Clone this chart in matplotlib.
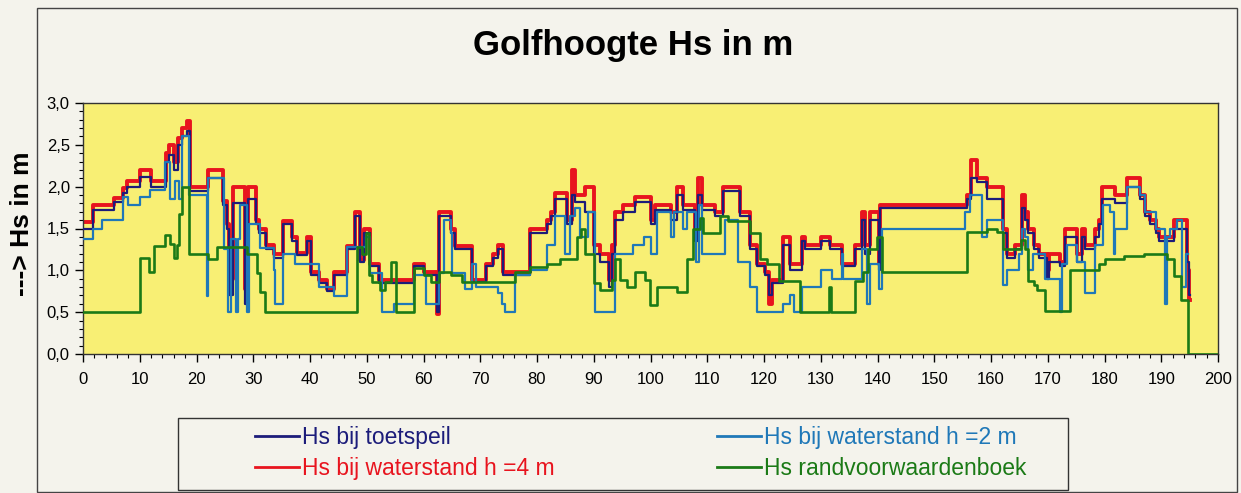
import matplotlib
matplotlib.use("Agg")
import matplotlib.pyplot as plt
from matplotlib.ticker import MultipleLocator, FuncFormatter
from matplotlib.patches import Rectangle

rood_x = [0, 1.8, 5.4, 7, 7.7, 10, 12, 14.6, 15.2, 16, 16.8, 17.4, 18.3, 18.9, 22.1, 24.6, 25.3, 25.8,
          26.5, 28.6, 29, 30.4, 31, 32.3, 33.6, 35.2, 36.8, 37.7, 39.4, 40.2, 41.5, 43, 44.2, 46.6, 48,
          48.8, 49.6, 50.5, 52.2, 58.3, 60, 62.4, 62.8, 64.8, 65.6, 68.5, 71, 72.3, 73.2, 74, 78.8,
          81.8, 82.4, 83.2, 85.2, 86.1, 86.7, 88.5, 90, 91.1, 92.6, 93.2, 93.8, 95.2, 97.3, 100, 100.8,
          103.7, 104.6, 105.8, 107.8, 108.4, 109, 111.4, 112.8, 115.8, 117.6, 118.7, 120.2, 120.8,
          121.4, 123.4, 124.6, 126.7, 127.3, 130, 131.7, 133.7, 136, 137.2, 137.8, 138.7, 140.2, 140.5,
          155.8, 156.4, 157.5, 159.3, 162.2, 162.8, 164.3, 165.5, 166, 166.6, 167.5, 168.5, 169.8,
          170.3, 172.2, 173.1, 175.1, 176, 176.6, 178.4, 179, 179.5, 181.9, 184, 186.3, 187.2, 188.1,
          189, 189.6, 192.2, 194.5, 194.9, 195.1]
rood_y = [1.58, 1.78, 1.87, 1.98, 2.07, 2.2, 2.07, 2.4, 2.5, 2.3, 2.58, 2.7, 2.78, 2.0, 2.2, 1.83, 1.55, 0.9,
          2.0, 0.78, 2.0, 1.6, 1.5, 1.3, 1.2, 1.59, 1.4, 1.21, 1.4, 0.98, 0.88, 0.78, 0.98, 1.29, 1.7,
          1.12, 1.5, 1.08, 0.88, 1.08, 0.98, 0.48, 1.7, 1.5, 1.29, 0.88, 1.08, 1.2, 1.3, 0.98, 1.5,
          1.6, 1.7, 1.92, 1.6, 2.2, 1.9, 2.0, 1.3, 1.2, 0.88, 1.3, 1.7, 1.78, 1.88, 1.6, 1.78,
          1.7, 2.0, 1.78, 1.4, 2.1, 1.78, 1.7, 2.0, 1.7, 1.3, 1.08, 0.98, 0.6,
          0.88, 1.4, 1.08, 1.4, 1.3, 1.4, 1.3, 1.08, 1.3, 1.7, 1.3, 1.7, 1.08, 1.78,
          1.9, 2.32, 2.1, 2.0, 1.5, 1.2, 1.3, 1.9, 1.7, 1.5, 1.3, 1.2, 1.0,
          1.2, 1.1, 1.5, 1.2, 1.5, 1.3, 1.5, 1.6, 2.0, 1.9, 2.1, 1.9, 1.7, 1.6,
          1.5, 1.4, 1.6, 1.0, 0.65, 0.65]
toets_y = [1.5, 1.72, 1.82, 1.93, 2.0, 2.12, 2.0, 2.3, 2.38, 2.2, 2.5, 2.6, 2.66, 1.95, 2.1, 1.78, 1.5, 0.7,
           1.8, 0.6, 1.85, 1.55, 1.45, 1.25, 1.15, 1.55, 1.35, 1.18, 1.35, 0.95, 0.85, 0.75, 0.95, 1.25, 1.65,
           1.1, 1.45, 1.05, 0.85, 1.05, 0.95, 0.5, 1.65, 1.45, 1.25, 0.86, 1.05, 1.15, 1.25, 0.95, 1.45,
           1.55, 1.65, 1.85, 1.55, 1.9, 1.82, 1.7, 1.2, 1.1, 0.8, 1.2, 1.6, 1.7, 1.82, 1.55, 1.72,
           1.6, 1.9, 1.72, 1.35, 1.9, 1.72, 1.65, 1.95, 1.65, 1.25, 1.05, 0.95, 0.7,
           0.85, 1.3, 1.0, 1.35, 1.25, 1.35, 1.25, 1.05, 1.25, 1.6, 1.2, 1.6, 1.0, 1.74,
           1.85, 2.1, 2.05, 1.85, 1.45, 1.15, 1.25, 1.75, 1.6, 1.45, 1.25, 1.15, 0.9,
           1.1, 1.05, 1.4, 1.1, 1.4, 1.25, 1.4, 1.55, 1.85, 1.8, 2.0, 1.85, 1.65, 1.55,
           1.45, 1.35, 1.5, 1.1, 0.7, 0.7]

blauw_x = [0, 1.8, 3.3, 7.1, 8, 10, 11.8, 14.5, 15.3, 16.2, 17, 17.4, 18.6, 21.8, 22.0, 24.8, 25.6, 26.0,
           26.9, 27.3, 27.7, 28.9, 29.3, 31.2, 33.6, 33.9, 35.2, 37.4, 41.5, 44.2, 46.6, 49.8, 50.6, 52.7,
           54.8, 58.4, 60.4, 62.7, 63.6, 64.8, 65.1, 67.4, 68.5, 69.3, 73.2, 73.8, 74.3, 76.1, 78.8, 81.7,
           83.2, 84.9, 85.8, 86.7, 87.6, 89, 90.2, 93.8, 97, 98.8, 100, 101.1, 103.7, 104.1, 105.8, 106.4,
           108.1, 108.6, 109, 113.1, 115.5, 117.6, 118.7, 123.4, 124.6, 125.2, 126.7, 130, 132, 133.7,
           134, 137.2, 138.1, 138.7, 140.2, 140.8, 155.5, 156.3, 158.4, 159.3, 162.2, 162.8, 164.9,
           165.5, 166, 166.6, 167.4, 169.5, 172.2, 172.5, 173.4, 175.1, 176.6, 178.4, 179.8, 181, 181.6,
           181.9, 184, 186.3, 187.2, 189, 190.7, 191, 191.6, 192.8, 193.7, 194.3, 194.8]
blauw_y = [1.37, 1.5, 1.6, 1.88, 1.78, 1.88, 1.96, 2.3, 1.85, 2.07, 1.85, 2.6, 1.9, 0.69, 2.1, 1.26, 0.5, 1.37,
           0.5, 1.37, 1.78, 0.5, 1.55, 1.27, 1.0, 0.6, 1.2, 1.08, 0.8, 0.69, 1.28, 1.4, 0.97, 0.5,
           0.6, 0.95, 0.6, 0.97, 1.6, 1.45, 0.97, 0.78, 1.08, 0.8, 0.73, 0.6, 0.5, 0.95, 1.0, 1.3,
           1.65, 1.2, 1.65, 1.75, 1.4, 1.7, 0.5, 1.2, 1.3, 1.4, 1.2, 1.7, 1.4, 1.7, 1.5, 1.7,
           1.1, 1.78, 1.2, 1.6, 1.1, 0.8, 0.5, 0.6, 0.7, 0.5, 0.8, 1.0, 0.9, 1.2,
           0.9, 1.25, 0.6, 1.08, 0.78, 1.5, 1.7, 1.9, 1.4, 1.6, 0.83, 1.0, 1.2,
           1.5, 1.4, 1.0, 1.2, 0.9, 0.5, 1.08, 1.3, 1.1, 0.73, 1.3, 1.78, 1.7, 1.2,
           1.5, 2.0, 1.9, 1.7, 1.5, 0.6, 1.4, 1.5, 1.6, 0.8, 1.2, 1.2]

groen_x = [0, 10, 11.7, 12.5, 14.5, 15.4, 16, 16.5, 17, 17.4, 18.6, 22.1, 23.6, 28.9, 30.6, 31.2, 32, 48.2,
           49.2, 49.8, 50.4, 51, 52.4, 53.3, 54.2, 55.2, 58.3, 60, 61.4, 62.7, 64.8, 66.8, 76.1, 78.8,
           81.7, 84, 87, 87.7, 88.5, 90, 91.1, 93.2, 93.8, 94.6, 95.8, 97.3, 99, 99.9, 101.1, 104.6,
           106.4, 107.5, 108.7, 109.3, 112.3, 113.7, 117.6, 119.3, 120.5, 122.6, 126.4, 131.4, 131.8,
           136, 137.5, 138.4, 139.9, 140.8, 155.8, 159.3, 161, 162.2, 165.2, 166, 166.6, 167.5, 168.1,
           169.5, 174, 179, 180.1, 183.4, 186.9, 191, 192.2, 193.4, 194.8, 200]
groen_y = [0.5, 1.15, 0.98, 1.29, 1.42, 1.32, 1.15, 1.3, 1.67, 2.0, 1.2, 1.14, 1.28, 1.2, 0.97, 0.74, 0.5, 1.28,
           1.2, 1.45, 0.95, 0.86, 0.77, 0.86, 1.1, 0.5, 1.03, 0.95, 0.86, 0.98, 0.95, 0.86, 0.98, 1.04,
           1.08, 1.13, 1.4, 1.5, 1.2, 0.85, 0.76, 0.88, 1.13, 0.88, 0.8, 0.98, 0.88, 0.58, 0.8, 0.74,
           1.13, 1.5, 1.62, 1.45, 1.65, 1.59, 1.45, 1.13, 1.08, 0.87, 0.5, 0.8, 0.5,
           0.87, 0.98, 1.26, 1.4, 0.98, 1.46, 1.5, 1.46, 1.26, 1.36, 1.26, 0.87, 0.83, 0.77,
           0.51, 1.0, 1.07, 1.14, 1.17, 1.19, 1.14, 0.93, 0.65, 0.0, 0.0]

reeks_namen = ["Hs bij toetspeil", "Hs bij waterstand h =4 m",
               "Hs bij waterstand h =2 m", "Hs randvoorwaardenboek"]
kleuren = ["#1c1c7a", "#e8141e", "#1f78b8", "#1b7a16"]

plt.rcParams["font.family"] = ["Liberation Sans", "DejaVu Sans"]

fig = plt.figure(figsize=(12.41, 4.93), dpi=100, facecolor="#f4f3ec")
ax = fig.add_axes([83 / 1241, 1 - 354 / 493, 1135 / 1241, 251 / 493])
ax.set_facecolor("#f8ef74")

# kader rond de grafiek en rond de legenda
fig.patches.append(Rectangle((37 / 1241, 1 - 492 / 493), 1200 / 1241, 484 / 493,
                             transform=fig.transFigure, fill=False, edgecolor="#444444", lw=1.0))
fig.patches.append(Rectangle((178 / 1241, 1 - 490 / 493), 890 / 1241, 72 / 493,
                             transform=fig.transFigure, fill=False, edgecolor="#333333", lw=1.0))

l_rood, = ax.step(rood_x, rood_y, where="post", color=kleuren[1], lw=2.8, zorder=2)
l_toets, = ax.step(rood_x, toets_y, where="post", color=kleuren[0], lw=1.6, zorder=3)
l_blauw, = ax.step(blauw_x, blauw_y, where="post", color=kleuren[2], lw=1.6, zorder=4)
l_groen, = ax.step(groen_x, groen_y, where="post", color=kleuren[3], lw=1.9, zorder=5)

ax.set_xlim(0, 200)
ax.set_ylim(0, 3)
ax.xaxis.set_major_locator(MultipleLocator(10))
ax.xaxis.set_minor_locator(MultipleLocator(2))
ax.yaxis.set_major_locator(MultipleLocator(0.5))
ax.yaxis.set_minor_locator(MultipleLocator(0.1))
ax.yaxis.set_major_formatter(FuncFormatter(lambda v, p: f"{v:.1f}".replace(".", ",")))
ax.tick_params(axis="both", which="major", labelsize=12, length=6, width=1, direction="out")
ax.tick_params(axis="x", which="major", pad=7)
ax.tick_params(axis="both", which="minor", length=3, width=0.8, direction="out")
for s in ax.spines.values():
    s.set_linewidth(1.0)
    s.set_color("#333333")

fig.text(633 / 1241, 1 - 45 / 493, "Golfhoogte Hs in m", ha="center", va="center",
         fontsize=25, fontweight="bold")
fig.text(22 / 1241, 1 - 224 / 493, "---> Hs in m", ha="center", va="center",
         rotation=90, fontsize=19, fontweight="bold")

leg = fig.legend([l_toets, l_rood, l_blauw, l_groen], reeks_namen, ncol=2,
                 loc="upper left", bbox_to_anchor=(255 / 1241, 1 - 426 / 493),
                 fontsize=16.5, handlelength=1.9, handletextpad=0.15, columnspacing=7.1,
                 frameon=False, borderpad=0, borderaxespad=0, labelspacing=0.35)
for tekst, kl in zip(leg.get_texts(), kleuren):
    tekst.set_color(kl)
for lijn in leg.get_lines():
    lijn.set_linewidth(2)

fig.savefig("out.png", dpi=100, facecolor=fig.get_facecolor())
